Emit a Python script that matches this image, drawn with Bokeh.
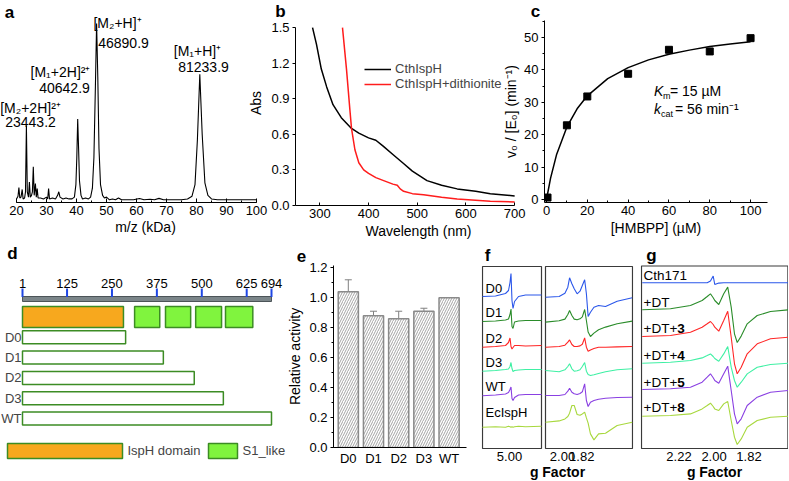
from bokeh.plotting import figure
from bokeh.layouts import row, column
from bokeh.models import (Range1d, FixedTicker, SingleIntervalTicker, Label, Legend, LegendItem,
                          Whisker, TeeHead, ColumnDataSource, PrintfTickFormatter)
from bokeh.core.properties import value
from bokeh.embed import file_html
from bokeh.resources import INLINE

FONT = "Liberation Sans"

# ---------------- panel a: mass spectrum ----------------
ms_mass = [20.0, 20.5, 20.8, 21.1, 21.5, 21.9, 22.2, 22.7, 23.0, 23.3, 23.6, 24.0, 24.3, 24.6, 25.0,
           25.3, 25.6, 25.9, 26.3, 26.6, 26.9, 27.2, 28.0, 29.0, 30.0, 30.4, 30.7, 31.0, 32.0, 33.0,
           33.7, 34.1, 34.5, 35.5, 36.5, 37.5, 38.5, 39.3, 39.8, 40.1, 40.4, 40.7, 41.0, 41.5, 42.0,
           43.0, 44.0, 44.7, 45.3, 45.8, 46.3, 46.7, 47.1, 47.5, 48.0, 48.7, 49.3, 50.0, 51.0, 52.0,
           53.0, 54.0, 55.0, 57.0, 59.0, 61.0, 62.5, 64.5, 66.0, 67.5, 69.0, 72.0, 75.0, 77.0, 78.5,
           79.5, 80.3, 81.1, 81.9, 82.8, 83.8, 85.0, 87.0, 90.0, 95.0, 100.0]
ms_int = [2.0, 3.5, 8.4, 2.5, 3.0, 7.3, 2.0, 2.5, 6.0, 43.0, 6.0, 3.0, 11.5, 3.0, 4.0,
          6.0, 20.0, 4.0, 10.6, 3.0, 7.8, 2.5, 2.5, 2.0, 3.0, 2.0, 7.8, 2.0, 2.5, 2.0,
          4.0, 6.0, 3.0, 2.0, 2.5, 2.0, 2.0, 3.0, 10.0, 25.0, 46.6, 30.0, 12.0, 4.0, 2.0,
          2.5, 2.0, 3.0, 8.0, 25.0, 65.0, 100.0, 70.0, 30.0, 10.0, 4.0, 2.5, 3.0, 1.5, 2.0,
          1.5, 2.5, 1.5, 1.5, 1.5, 2.2, 1.5, 1.8, 1.5, 2.3, 1.5, 1.5, 1.5, 2.0, 3.5,
          10.0, 35.0, 71.7, 38.0, 11.0, 4.0, 2.0, 1.5, 1.5, 1.5, 1.5]
peak_names = ["[M\u2082+2H]\u00b2\u207a", "[M\u2081+2H]\u00b2\u207a", "[M\u2082+H]\u207a", "[M\u2081+H]\u207a"]
peak_values = ["23443.2", "40642.9", "46890.9", "81233.9"]

# ---------------- panel b: UV-vis ----------------
b_series = ["CthIspH", "CthIspH+dithionite"]
wl_native = [285, 293, 303, 314, 327, 344, 365, 380, 400, 415, 430, 450, 470, 490, 505, 520, 550,
             582, 620, 650, 700]
abs_native = [1.50, 1.36, 1.15, 1.00, 0.85, 0.74, 0.65, 0.61, 0.57, 0.55, 0.50, 0.43, 0.36, 0.29,
              0.25, 0.21, 0.17, 0.14, 0.12, 0.10, 0.08]
wl_reduced = [346.5, 354.7, 361.6, 365, 372, 380, 390, 400, 415, 431, 450, 459, 465, 472, 490, 513,
              550, 582, 650, 700]
abs_reduced = [1.50, 1.15, 0.81, 0.65, 0.47, 0.36, 0.30, 0.27, 0.235, 0.21, 0.18, 0.17, 0.14, 0.12,
               0.10, 0.09, 0.07, 0.055, 0.035, 0.03]

# ---------------- panel c: kinetics ----------------
hmbpp = [0.5, 10, 20, 40, 60, 80, 100]
rate = [0.6, 22.9, 31.8, 38.8, 46.2, 45.7, 49.8]
fit_s = [0, 2, 5, 10, 15, 20, 30, 40, 50, 60, 70, 80, 90, 100]
fit_v = [0, 6.6, 14.0, 22.4, 28.0, 32.0, 37.3, 40.7, 43.1, 44.8, 46.1, 47.2, 48.0, 48.7]
km_text = "15"
kcat_text = "56"

# ---------------- panel d: domain map ----------------
residue_ticks = [1, 125, 250, 375, 500, 625, 694]
isph_domain = [1, 282]
s1_starts = [313, 399, 483, 566]
s1_ends = [383, 469, 555, 642]
constructs = ["D0", "D1", "D2", "D3", "WT"]
construct_ends = [288, 393, 479, 560, 694]

# ---------------- panel e: activity ----------------
variants = ["D0", "D1", "D2", "D3", "WT"]
activity = [1.04, 0.88, 0.86, 0.91, 1.00]
activity_err = [0.08, 0.03, 0.05, 0.02, 0.0]

# ---------------- panel f: EPR of truncations ----------------
f_samples = ["D0", "D1", "D2", "D3", "WT", "EcIspH"]
f_low_field = [87.7, 110.2, 127.4, 132.6, 135.2, 136.9, 138.6, 140.4, 143.0, 149.9, 162.0, 189.5]
f_low_signal = [
    [1, 1.5, 4, 7, 15, 24, -3, -11, -4, 1, 2.5, 2.5],
    [0.3, 0.8, 1.8, 2.8, 7.3, 12.8, -4.7, -6.7, -0.2, 0.8, 1.3, 1.3],
    [0, 0.7, 1.7, 4.7, 9.2, 0.7, -1.8, -0.3, 1.7, 1.7, 1.2, 1.7],
    [-0.7, 0, 1, 1.5, 4, 8, 2, -1, 0, 0.5, 1, 1],
    [-0.3, 0.5, 1.5, 3, 6, 8.5, -3, -5, -2, 0.5, 1, 1],
    [-5, -4.5, -5, -4, -4.5, -5, -4.5, -5, -4.5, -4, -4.5, -4],
]
f_high_field = [306.5, 330, 340, 345, 348, 352, 356, 361, 366, 370, 374, 377, 380, 384, 390, 398,
                410, 430, 456]
f_high_signal = [
    [0.3, 1, 4.3, 10.3, 19.7, 13.7, 8.7, 3.7, 6.3, 12, 17.7, 3.7, -19, -14.7, -9.7, -8, -9, -3.7, -0.3],
    [-0.3, 1, 2.7, 7.3, 11.3, 6.3, 2.7, 2, 3, 5, 12.3, 1.3, -10.3, -14.7, -11.3, -8, -5.3, -2, 0.7],
    [0, 0.7, 2, 5, 7.3, 2.7, 0.7, 0.7, 1.3, 3, 9.3, 0, -4, -2.7, -1.3, 0, 0, 0.3, 0.7],
    [0, -1.3, 0.7, 4, 6.7, 1.7, -0.7, -0.3, 0.7, 4, 8, -0.7, -4, -5, -4.3, -3, -1.3, 0.7, 1.7],
    [0, 0, 1, 4.3, 7.3, 3.3, 1.7, 1, 2, 3.7, 11.7, -5, -11, -6.7, -5, -3.7, -2.7, -2, -1.7],
    [0, 1.3, 3.3, 5.7, 9, 16.7, 16.7, 7.7, 7, 8.3, 10, 4.3, -1, -11.7, -17.7, -11.7, -11, -3.3, 0],
]
f_g_ticks = [5.00, 2.00, 1.82]

# ---------------- panel g: EPR with ligands ----------------
g_samples = ["Cth171", "+DT", "+DT+3", "+DT+4", "+DT+5", "+DT+8"]
g_field = [267.6, 294.4, 313.4, 324.5, 329.3, 332.4, 335.0, 336.5, 340.3, 345.0, 348.8, 352.1,
           355.2, 357.8, 361.6, 367.3, 376.8, 389.4, 406.5]
g_signal = [
    [0, 0, 0, 0, 0, 1.7, 6.7, -1.7, -0.3, 0, 0, 0, 0, 0, 0, 0, 0, 0, 0],
    [0, 1, 4.3, 9.3, 13.3, 16, 12, 9.3, 5.3, 16, 22.7, 2.7, -24, -32.7, -26.3, -14, -5.7, -1.7, 0],
    [0, 1, 4.3, 9.3, 12.7, 15, 12, 9.3, 5.3, 16, 25.3, -0.7, -27.3, -37.3, -30.7, -17.3, -7.3, -2.3, -0.7],
    [0, 1, 2.7, 5.3, 7.7, 9.3, 6.7, 4.7, 2, 9.3, 16.7, -4, -17.3, -24, -19, -10.7, -4, -1.3, 0],
    [0, 0.7, 2.3, 7.3, 12.3, 15.7, 11.7, 9, 6.3, 15.7, 23.3, -1, -24.3, -34.3, -29.3, -16, -7.7, -2.7, -1],
    [0, 0.7, 2.3, 7.3, 10.7, 13, 9.7, 7.3, 5.7, 12.3, 14.7, -4.3, -21, -28.3, -22.7, -11, -4.3, -1, 0],
]
g_g_ticks = [2.22, 2.00, 1.82]

EPR_COLORS = ["#2b57ea", "#2a8c2a", "#ff2626", "#3ff0a4", "#8a40e2", "#a8d83e"]
ORANGE = "#f7a81e"
LIME = "#80f43e"
DKGREEN = "#3c8c24"
FIELD_CONST = 671.6   # mT * g at 9.4 GHz


# ---------------- layout helpers (page pixels) ----------------
def fpx(n):
    return "%.1fpx" % n


class Panel:
    def __init__(self, canvas, frame, xr, yr, **kw):
        self.cx0, self.cx1, self.cy0, self.cy1 = canvas
        self.fx0, self.fx1, self.fy0, self.fy1 = frame
        self.xr, self.yr = xr, yr
        f = figure(width=round(self.cx1 - self.cx0), height=round(self.cy1 - self.cy0),
                   x_range=Range1d(*xr), y_range=Range1d(*yr), title=None,
                   output_backend="svg", toolbar_location=None,
                   min_border_left=round(self.fx0 - self.cx0),
                   min_border_right=round(self.cx1 - self.fx1),
                   min_border_top=round(self.fy0 - self.cy0),
                   min_border_bottom=round(self.cy1 - self.fy1),
                   **kw)
        if "frame_align" in f.properties():
            f.frame_align = False
        f.background_fill_color = None
        f.border_fill_color = None
        f.outline_line_color = None
        f.grid.visible = False
        self.fig = f

    def X(self, px):
        return self.xr[0] + (px - self.fx0) / (self.fx1 - self.fx0) * (self.xr[1] - self.xr[0])

    def Y(self, py):
        return self.yr[0] + (self.fy1 - py) / (self.fy1 - self.fy0) * (self.yr[1] - self.yr[0])

    def label(self, px, py, text, size=13, style="normal", align="left", baseline="middle",
              color="black", x_offset=0):
        self.fig.add_layout(Label(x=self.X(px), y=self.Y(py), text=text, text_font=FONT,
                                  text_font_size=fpx(size), text_font_style=style,
                                  text_align=align, text_baseline=baseline,
                                  text_color=color, x_offset=x_offset))


def style_axis(ax, tick=13, title=14):
    ax.major_label_text_font = FONT
    ax.major_label_text_font_size = fpx(tick)
    ax.major_label_text_color = "black"
    ax.axis_label_text_font = FONT
    ax.axis_label_text_font_size = fpx(title)
    ax.axis_label_text_font_style = "normal"
    ax.axis_label_text_color = "black"
    ax.axis_line_color = "black"
    ax.major_tick_line_color = "black"
    ax.minor_tick_line_color = "black"


def make_row(panels):
    children = []
    cur = 0
    for P in panels:
        left = round(P.cx0)
        P.fig.margin = (0, 0, 0, left - cur)
        cur = left + P.fig.width
        children.append(P.fig)
    return row(children, spacing=0)


# ================= panel a =================
def kda(px):
    return 20 + (px - 16) / 3.0


A = Panel((0, 290, 0, 241), (0, 290, 0, 202), (kda(0), kda(290)), (0, 202 / 1.79),
          y_axis_location=None)
fa = A.fig
fa.line(ms_mass, ms_int, line_color="black", line_width=1.1)
ax = fa.xaxis[0]
ax.ticker = SingleIntervalTicker(interval=10, num_minor_ticks=2)
ax.bounds = (20, 100)
ax.axis_label = "m/z (kDa)"
style_axis(ax)
ax.major_tick_in, ax.major_tick_out = 4, 0
ax.minor_tick_in, ax.minor_tick_out = 2, 0
ax.major_label_standoff = 3
ax.axis_label_standoff = 1
a_label_pos = [(30, 107, 30, 121), (60, 71, 64, 87), (117, 22, 123, 42), (197, 50, 203, 66)]
for name, val, (nx, ny, vx, vy) in zip(peak_names, peak_values, a_label_pos):
    A.label(nx, ny, name, size=14, align="center")
    A.label(vx, vy, val, size=14, align="center")
A.label(9, 12, "a", size=17, style="bold", align="center")
A.label(280, 11, "b", size=17, style="bold", align="center")

# ================= panel b =================
def nm(px):
    return 250 + (px - 295) / 0.487


def absv(py):
    return (204.5 - py) / 118.33


Bp = Panel((240, 541, 0, 241), (295, 541, 0, 204.5), (250, nm(541)), (0, absv(0)))
fb = Bp.fig
r1 = fb.line(wl_native, abs_native, line_color="black", line_width=1.5)
r2 = fb.line(wl_reduced, abs_reduced, line_color="#ff1c1c", line_width=1.5)
bx, by = fb.xaxis[0], fb.yaxis[0]
bx.ticker = SingleIntervalTicker(interval=100, num_minor_ticks=2)
bx.bounds = (250, 700)
by.ticker = FixedTicker(ticks=[0.0, 0.3, 0.6, 0.9, 1.2, 1.5])
by.bounds = (0, 1.5)
by.formatter = PrintfTickFormatter(format="%.1f")
bx.axis_label = "Wavelength (nm)"
by.axis_label = "Abs"
for a_ in (bx, by):
    style_axis(a_)
    a_.minor_tick_in, a_.minor_tick_out = 0, 0
    a_.axis_label_standoff = 2
bx.major_tick_in, bx.major_tick_out = 3, 0
bx.major_label_standoff = 3
by.major_tick_in, by.major_tick_out = 0, 3
by.major_label_standoff = 3
by.axis_label_standoff = 4
leg = Legend(items=[LegendItem(label=b_series[0], renderers=[r1]),
                    LegendItem(label=b_series[1], renderers=[r2])],
             location=(364 - 295, round(204.5 - 91)))
leg.border_line_color = None
leg.background_fill_alpha = 0
leg.padding = 0
leg.margin = 0
leg.spacing = 0
leg.glyph_width = 27
leg.glyph_height = 12
leg.label_height = 12
leg.label_standoff = 4
leg.label_text_font = FONT
leg.label_text_font_size = fpx(13)
fb.add_layout(leg)
Bp.label(535, 11, "c", size=17, style="bold", align="center")

# ================= panel c =================
def conc(px):
    return (px - 545) / 2.05


def vel(py):
    return (199 - py) / 3.24


Cp = Panel((500, 788, 0, 241), (543, 767, 20, 202), (conc(543), conc(767)), (vel(202), vel(20)))
fc = Cp.fig
fc.line(fit_s, fit_v, line_color="black", line_width=1.5)
fc.scatter(hmbpp, rate, marker="square", size=7, fill_color="black", line_color="black")
cx, cy = fc.xaxis[0], fc.yaxis[0]
cx.ticker = SingleIntervalTicker(interval=20, num_minor_ticks=2)
cy.ticker = SingleIntervalTicker(interval=10, num_minor_ticks=2)
cx.axis_label = "[HMBPP] (\u00b5M)"
cy.axis_label = "v\u2080 / [E\u2080] (min\u207b\u00b9)"
for a_ in (cx, cy):
    style_axis(a_)
    a_.major_label_standoff = 3
    a_.axis_label_standoff = 2
cx.major_tick_in, cx.major_tick_out = 3, 0
cx.minor_tick_in, cx.minor_tick_out = 2, 0
cy.major_tick_in, cy.major_tick_out = 0, 3
cy.minor_tick_in, cy.minor_tick_out = 0, 2
Cp.label(653, 90, "K", size=14, style="italic")
Cp.label(662, 95, "m", size=9)
Cp.label(669, 90, "= " + km_text + " \u00b5M", size=14)
Cp.label(653, 108, "k", size=14, style="italic")
Cp.label(660, 113, "cat", size=9)
Cp.label(674, 108, "= " + kcat_text + " min\u207b\u00b9", size=14)

# ================= panel d =================
def res(px):
    return 1 + (px - 22) / 0.3593


def row_of(py):
    return (py - 316.5) / 20.3


Dp = Panel((0, 310, 241, 480), (0, 310, 241, 480), (res(0), res(310)), (row_of(480), row_of(241)),
           x_axis_location=None, y_axis_location=None)
fd = Dp.fig
# ruler
fd.quad(left=[residue_ticks[0]], right=[residue_ticks[-1]], bottom=[row_of(301)], top=[row_of(296)],
        fill_color="#7b8589", line_color="#4c5458", line_width=1)
fd.segment(x0=residue_ticks, x1=residue_ticks, y0=row_of(296.5), y1=row_of(288),
           line_color="#1f47e4", line_width=2)
fd.text(x=residue_ticks, y=row_of(287), text=[str(t) for t in residue_ticks],
        text_font=value(FONT), text_font_size=value("13px"), text_align="center",
        text_baseline="bottom", text_color="black")
# domains
fd.quad(left=[isph_domain[0]], right=[isph_domain[1]], bottom=[0.52], top=[-0.52],
        fill_color=ORANGE, line_color=DKGREEN, line_width=1.5)
fd.quad(left=s1_starts, right=s1_ends, bottom=0.52, top=-0.52,
        fill_color=LIME, line_color=DKGREEN, line_width=1.5)
rows = [i + 1 for i in range(len(constructs))]
fd.quad(left=1, right=construct_ends, bottom=[r + 0.32 for r in rows], top=[r - 0.32 for r in rows],
        fill_color="white", line_color=DKGREEN, line_width=1.5)
for name, r in zip(constructs, rows):
    fd.add_layout(Label(x=1, y=r, text=name, text_font=FONT, text_font_size=fpx(13),
                        text_align="right", text_baseline="middle", x_offset=-1))
leg_row = 6.6
fd.quad(left=[res(7)], right=[res(122)], bottom=[leg_row + 0.37], top=[leg_row - 0.37],
        fill_color=ORANGE, line_color=DKGREEN, line_width=1.5)
fd.quad(left=[res(208)], right=[res(237)], bottom=[leg_row + 0.37], top=[leg_row - 0.37],
        fill_color=LIME, line_color=DKGREEN, line_width=1.5)
fd.add_layout(Label(x=res(127), y=leg_row, text="IspH domain", text_font=FONT,
                    text_font_size=fpx(13), text_baseline="middle"))
fd.add_layout(Label(x=res(242), y=leg_row, text="S1_like", text_font=FONT,
                    text_font_size=fpx(13), text_baseline="middle"))
Dp.label(12, 253, "d", size=17, style="bold", align="center")
Dp.label(301, 255, "e", size=17, style="bold", align="center")

# ================= panel e =================
def act(py):
    return (446.7 - py) / 149.5


def slot(px):
    return (px - 347.8) / 25.2


Ep = Panel((283, 478, 241, 480), (333, 466, 265, 446.7), (slot(333), slot(466)), (0, act(265)))
fe = Ep.fig
xs = list(range(len(variants)))
fe.vbar(x=xs, top=activity, width=0.8, fill_color="white", line_color="#8a8a8a", line_width=1.5,
        hatch_pattern="/", hatch_color="#9a9a9a", hatch_weight=0.9, hatch_scale=5)
err_x = [x for x, e in zip(xs, activity_err) if e > 0]
err_up = [a + e for a, e in zip(activity, activity_err) if e > 0]
err_lo = [a - e for a, e in zip(activity, activity_err) if e > 0]
esrc = ColumnDataSource(dict(x=err_x, upper=err_up, lower=err_lo))
fe.add_layout(Whisker(source=esrc, base="x", upper="upper", lower="lower", line_color="#808080",
                      line_width=1,
                      upper_head=TeeHead(size=7, line_color="#808080", line_width=1),
                      lower_head=TeeHead(size=7, line_color="#808080", line_width=1)))
ex, ey = fe.xaxis[0], fe.yaxis[0]
ex.ticker = FixedTicker(ticks=xs)
ex.major_label_overrides = {i: v for i, v in zip(xs, variants)}
ey.ticker = SingleIntervalTicker(interval=0.2, num_minor_ticks=2)
ey.formatter = PrintfTickFormatter(format="%.1f")
ey.axis_label = "Relative activity"
for a_ in (ex, ey):
    style_axis(a_)
    a_.major_label_standoff = 3
    a_.axis_label_standoff = 3
ex.major_tick_in, ex.major_tick_out = 0, 0
ex.minor_tick_in, ex.minor_tick_out = 0, 0
ey.major_tick_in, ey.major_tick_out = 0, 3
ey.minor_tick_in, ey.minor_tick_out = 0, 2

# ================= panel f =================
def fdisp(px):
    return FIELD_CONST / 2.00 + (px - 562) / 0.58


def sig_f(py):
    return 448 - py


f_shift = fdisp(509) - FIELD_CONST / 5.00
f_base = [297, 321.3, 346.7, 370, 395, 421.7]
Fp = Panel((478, 637, 241, 480), (481, 633, 241, 480), (fdisp(481), fdisp(633)),
           (sig_f(480), sig_f(241)), y_axis_location=None)
ff = Fp.fig
ff.quad(left=[fdisp(482), fdisp(545)], right=[fdisp(541), fdisp(632)],
        bottom=[sig_f(448)] * 2, top=[sig_f(266)] * 2,
        fill_color=None, line_color="#3a3a3a", line_width=1.2)
for i, name in enumerate(f_samples):
    base = sig_f(f_base[i])
    ff.line([b + f_shift for b in f_low_field], [base + s for s in f_low_signal[i]],
            line_color=EPR_COLORS[i], line_width=1.1)
    ff.line(f_high_field, [base + s for s in f_high_signal[i]],
            line_color=EPR_COLORS[i], line_width=1.1)
f_tick_pos = [round(FIELD_CONST / f_g_ticks[0] + f_shift, 3),
              round(FIELD_CONST / f_g_ticks[1], 3),
              round(FIELD_CONST / f_g_ticks[2], 3)]
fx = ff.xaxis[0]
fx.ticker = FixedTicker(ticks=f_tick_pos)
fx.major_label_overrides = {p: "%.2f" % g for p, g in zip(f_tick_pos, f_g_ticks)}
fx.axis_label = "g Factor"
fx.fixed_location = sig_f(449)
style_axis(fx)
fx.axis_label_text_font_style = "bold"
fx.axis_line_color = None
fx.major_tick_in, fx.major_tick_out = 0, 0
fx.minor_tick_in, fx.minor_tick_out = 0, 0
fx.major_label_standoff = 2
fx.axis_label_standoff = 0
f_label_y = [288, 312, 338, 362, 386, 412]
for name, py in zip(f_samples, f_label_y):
    Fp.label(485, py, name, size=13)
Fp.label(487, 255, "f", size=17, style="bold", align="center")

# ================= panel g =================
def gdisp(px):
    return FIELD_CONST / 2.22 + (px - 678.5) / 1.053


g_base = [282.3, 309.3, 336, 362.7, 389, 415.7]
Gp = Panel((637, 788, 241, 480), (640, 788, 241, 480), (gdisp(640), gdisp(788)),
           (sig_f(480), sig_f(241)), y_axis_location=None)
fg = Gp.fig
fg.quad(left=[gdisp(641)], right=[gdisp(787.4)], bottom=[sig_f(448)], top=[sig_f(265.5)],
        fill_color=None, line_color="#3a3a3a", line_width=1.2)
for i, name in enumerate(g_samples):
    base = sig_f(g_base[i])
    fg.line(g_field, [base + s for s in g_signal[i]], line_color=EPR_COLORS[i], line_width=1.1)
g_tick_pos = [round(FIELD_CONST / g, 3) for g in g_g_ticks]
gx = fg.xaxis[0]
gx.ticker = FixedTicker(ticks=g_tick_pos)
gx.major_label_overrides = {p: "%.2f" % g for p, g in zip(g_tick_pos, g_g_ticks)}
gx.axis_label = "g Factor"
gx.fixed_location = sig_f(449)
style_axis(gx)
gx.axis_label_text_font_style = "bold"
gx.axis_line_color = None
gx.major_tick_in, gx.major_tick_out = 0, 0
gx.minor_tick_in, gx.minor_tick_out = 0, 0
gx.major_label_standoff = 2
gx.axis_label_standoff = 0
g_label_y = [275, 302, 328, 355, 382, 407]
plus_w = 2.501 * 13.5
for name, py in zip(g_samples, g_label_y):
    if name.startswith("+DT+"):
        Gp.label(643, py, "+DT+", size=13.5)
        Gp.label(643, py, name[4:], size=13.5, style="bold", x_offset=plus_w)
    else:
        Gp.label(643, py, name, size=13.5)
Gp.label(651, 255, "g", size=17, style="bold", align="center")

top = make_row([A, Bp, Cp])
bottom = make_row([Dp, Ep, Fp, Gp])
page = column(top, bottom, spacing=0)

open("out.html", "w").write(file_html(page, INLINE))
